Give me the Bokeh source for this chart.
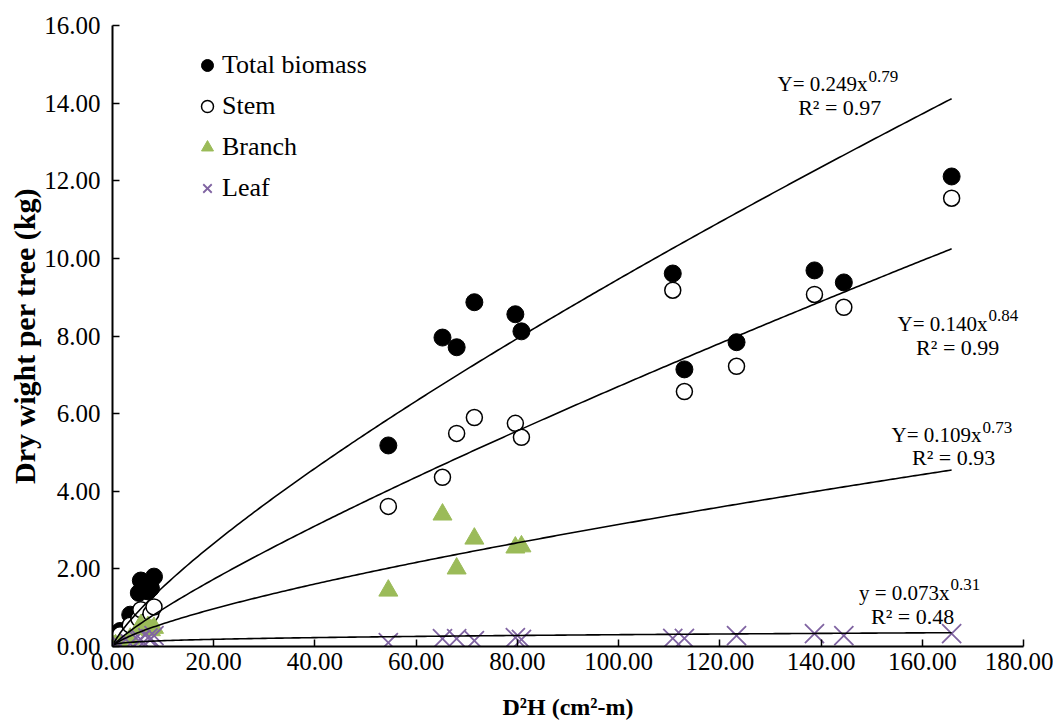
import numpy as np
from bokeh.plotting import figure
from bokeh.models import Range1d, Label, Legend, LegendItem, FixedTicker, NumeralTickFormatter
from bokeh.embed import file_html
from bokeh.resources import INLINE

# ---- data ----
d2h = [0.3, 0.6, 1.5, 3.5, 5.2, 5.6, 7.0, 7.6, 8.2,
       54.5, 65.2, 68.0, 71.5, 79.6, 80.8, 110.7, 113.0, 123.3, 138.7, 144.5, 165.8]
total = [0.05, 0.18, 0.40, 0.82, 1.38, 1.70, 1.42, 1.50, 1.80,
         5.18, 7.96, 7.71, 8.87, 8.56, 8.12, 9.61, 7.14, 7.84, 9.69, 9.38, 12.11]
stem = [0.04, 0.14, 0.30, 0.55, 0.72, 0.95, 0.68, 0.85, 1.02,
        3.61, 4.36, 5.49, 5.90, 5.75, 5.39, 9.18, 6.57, 7.22, 9.07, 8.74, 11.55]
branch_x = [0.3, 0.6, 1.5, 3.5, 5.2, 5.6, 7.0, 7.6, 8.2,
            54.5, 65.2, 68.0, 71.5, 79.6, 80.8]
branch = [0.01, 0.03, 0.07, 0.20, 0.45, 0.55, 0.50, 0.42, 0.48,
          1.44, 3.40, 2.01, 2.78, 2.55, 2.58]
leaf = [0.01, 0.02, 0.04, 0.07, 0.15, 0.18, 0.22, 0.20, 0.28,
        0.10, 0.20, 0.20, 0.15, 0.23, 0.18, 0.21, 0.21, 0.28, 0.33, 0.28, 0.33]

series_names = ["Total biomass", "Stem", "Branch", "Leaf"]
fit_a = [0.249, 0.140, 0.109, 0.073]
fit_b = [0.79, 0.84, 0.73, 0.31]
fit_r2 = [0.97, 0.99, 0.93, 0.48]
eq_prefix = ["Y= ", "Y= ", "Y= ", "y = "]
# annotation anchors (data units): equation split point and R² centre
eq_x = [149.2, 172.9, 171.7, 165.4]
eq_y = [14.48, 8.32, 5.44, 1.39]
r2_x = [143.7, 167.0, 166.2, 158.1]
r2_y = [13.89, 7.71, 4.87, 0.77]

x_ticks = [0, 20, 40, 60, 80, 100, 120, 140, 160, 180]
y_ticks = [0, 2, 4, 6, 8, 10, 12, 14, 16]

FONT = "Liberation Serif"
GREEN = "#9BBB59"
PURPLE = "#8064A2"

p = figure(frame_width=911, frame_height=621,
           x_range=Range1d(0, 180), y_range=Range1d(0, 16),
           output_backend="svg", toolbar_location=None,
           min_border_left=112, min_border_top=25,
           min_border_right=30, min_border_bottom=70)
p.xgrid.visible = False
p.ygrid.visible = False
p.outline_line_color = None
p.background_fill_color = "white"
p.border_fill_color = "white"

for ax in (p.xaxis[0], p.yaxis[0]):
    ax.axis_line_width = 2
    ax.axis_line_color = "black"
    ax.major_tick_line_color = "black"
    ax.major_tick_line_width = 1.5
    ax.major_tick_in = 7
    ax.major_tick_out = 0
    ax.minor_tick_line_color = None
    ax.major_label_text_font = FONT
    ax.major_label_text_font_size = "25px"
    ax.major_label_text_color = "black"
    ax.axis_label_text_font = FONT
    ax.axis_label_text_font_style = "bold"
    ax.axis_label_text_color = "black"
    ax.formatter = NumeralTickFormatter(format="0.00")

p.xaxis.ticker = FixedTicker(ticks=x_ticks)
p.yaxis.ticker = FixedTicker(ticks=y_ticks)
p.xaxis.axis_label = "D²H (cm²-m)"
p.yaxis.axis_label = "Dry wight per tree (kg)"
p.xaxis.axis_label_text_font_size = "24px"
p.yaxis.axis_label_text_font_size = "30px"
p.xaxis.major_label_standoff = 6
p.yaxis.major_label_standoff = 12
p.xaxis.axis_label_standoff = 21
p.yaxis.axis_label_standoff = 0

r_total = p.scatter(d2h, total, marker="circle", size=17, fill_color="black", line_color="black")
r_stem = p.scatter(d2h, stem, marker="circle", size=16, fill_color="white", line_color="black", line_width=1.5)
r_branch = p.scatter(branch_x, branch, marker="triangle", size=19, fill_color=GREEN, line_color=GREEN)
r_leaf = p.scatter(d2h, leaf, marker="x", size=27, line_color=PURPLE, line_width=1.8)

# power-law trendlines from the printed coefficients
xs = np.linspace(min(d2h), max(d2h), 300)
for a, b in zip(fit_a, fit_b):
    p.line(xs, a * xs ** b, line_color="black", line_width=1.6)

for i in range(4):
    p.add_layout(Label(x=eq_x[i], y=eq_y[i], text=f"{eq_prefix[i]}{fit_a[i]:.3f}x",
                       text_align="right", text_baseline="alphabetic",
                       text_font=FONT, text_font_size="21px", text_color="black"))
    p.add_layout(Label(x=eq_x[i], y=eq_y[i], x_offset=1, y_offset=8, text=f"{fit_b[i]:.2f}",
                       text_align="left", text_baseline="alphabetic",
                       text_font=FONT, text_font_size="17px", text_color="black"))
    p.add_layout(Label(x=r2_x[i], y=r2_y[i], text=f"R² = {fit_r2[i]:.2f}",
                       text_align="center", text_baseline="alphabetic",
                       text_font=FONT, text_font_size="22px", text_color="black"))

legend = Legend(items=[LegendItem(label=series_names[0], renderers=[r_total]),
                       LegendItem(label=series_names[1], renderers=[r_stem]),
                       LegendItem(label=series_names[2], renderers=[r_branch]),
                       LegendItem(label=series_names[3], renderers=[r_leaf])],
                location=(80, 440), glyph_width=30, glyph_height=36, label_standoff=0,
                spacing=5, padding=0, margin=0, border_line_color=None,
                background_fill_alpha=0)
legend.label_text_font = FONT
legend.label_text_font_size = "26px"
legend.label_text_color = "black"
p.add_layout(legend)

open("out.html", "w").write(file_html(p, INLINE))
